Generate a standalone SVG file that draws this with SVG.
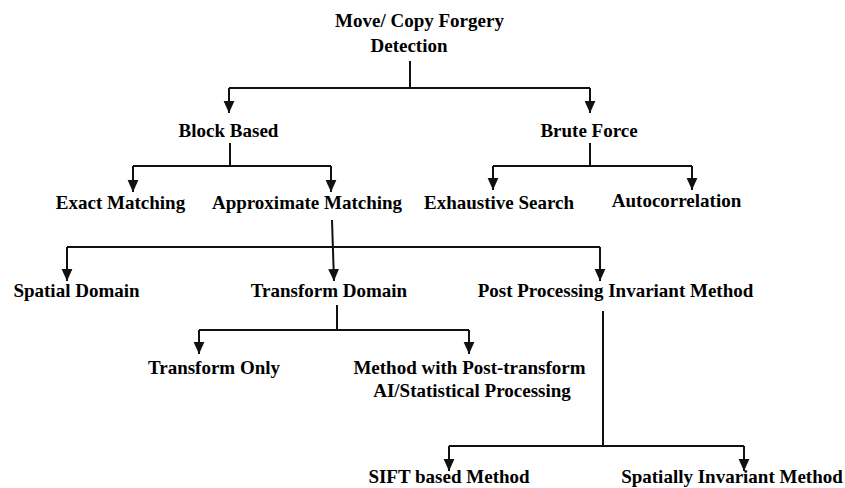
<svg xmlns="http://www.w3.org/2000/svg" width="845" height="488" viewBox="0 0 845 488">
<defs>
<style>
text{font-family:"Liberation Serif","Times New Roman",serif;font-weight:bold;font-size:19px;fill:#000;text-anchor:middle}
.c path{fill:none;stroke:#111;stroke-width:2}
</style>
<marker id="ah" markerUnits="userSpaceOnUse" markerWidth="12" markerHeight="12" viewBox="0 0 10 10" refX="10" refY="5" orient="auto">
<path d="M0,0.5 L10,5 L0,9.5 z" fill="#111"/>
</marker>
</defs>
<rect width="845" height="488" fill="#fff"/>
<g class="c" id="connectors">
<path d="M410,61 V88"/>
<path d="M229,88 H590"/>
<path d="M229,88 V113" marker-end="url(#ah)"/>
<path d="M590,88 V113" marker-end="url(#ah)"/>
<path d="M230,143 V166"/>
<path d="M133,166 H331"/>
<path d="M133,166 V192" marker-end="url(#ah)"/>
<path d="M331,166 V192" marker-end="url(#ah)"/>
<path d="M590,143 V166"/>
<path d="M493,166 H692"/>
<path d="M493,166 V190" marker-end="url(#ah)"/>
<path d="M692,166 V190" marker-end="url(#ah)"/>
<path d="M332,220 L334,281" marker-end="url(#ah)"/>
<path d="M67,247 H600"/>
<path d="M67,247 V281" marker-end="url(#ah)"/>
<path d="M600,247 V281" marker-end="url(#ah)"/>
<path d="M337,305 V330"/>
<path d="M199,330 H469"/>
<path d="M199,330 V354" marker-end="url(#ah)"/>
<path d="M469,330 V354" marker-end="url(#ah)"/>
<path d="M603,311 V446"/>
<path d="M449,446 H744"/>
<path d="M449,446 V471" marker-end="url(#ah)"/>
<path d="M744,446 V471" marker-end="url(#ah)"/>
</g>
<g id="root"><text x="419.5" y="27">Move/ Copy Forgery</text><text x="409" y="52">Detection</text></g>
<g id="block"><text x="228.5" y="137">Block Based</text></g>
<g id="brute"><text x="589" y="137">Brute Force</text></g>
<g id="exact"><text x="120.5" y="209">Exact Matching</text></g>
<g id="approx"><text x="307" y="209">Approximate Matching</text></g>
<g id="exhaustive"><text x="499" y="209">Exhaustive Search</text></g>
<g id="autocorr"><text x="676.5" y="207">Autocorrelation</text></g>
<g id="spatial"><text x="76.5" y="297">Spatial Domain</text></g>
<g id="transform"><text x="329" y="297">Transform Domain</text></g>
<g id="postproc"><text x="615.5" y="297">Post Processing Invariant Method</text></g>
<g id="tonly"><text x="214" y="374">Transform Only</text></g>
<g id="tpost"><text x="469.5" y="374">Method with Post-transform</text><text x="472" y="397">AI/Statistical Processing</text></g>
<g id="sift"><text x="449" y="483">SIFT based Method</text></g>
<g id="spinv"><text x="732" y="483">Spatially Invariant Method</text></g>
</svg>
